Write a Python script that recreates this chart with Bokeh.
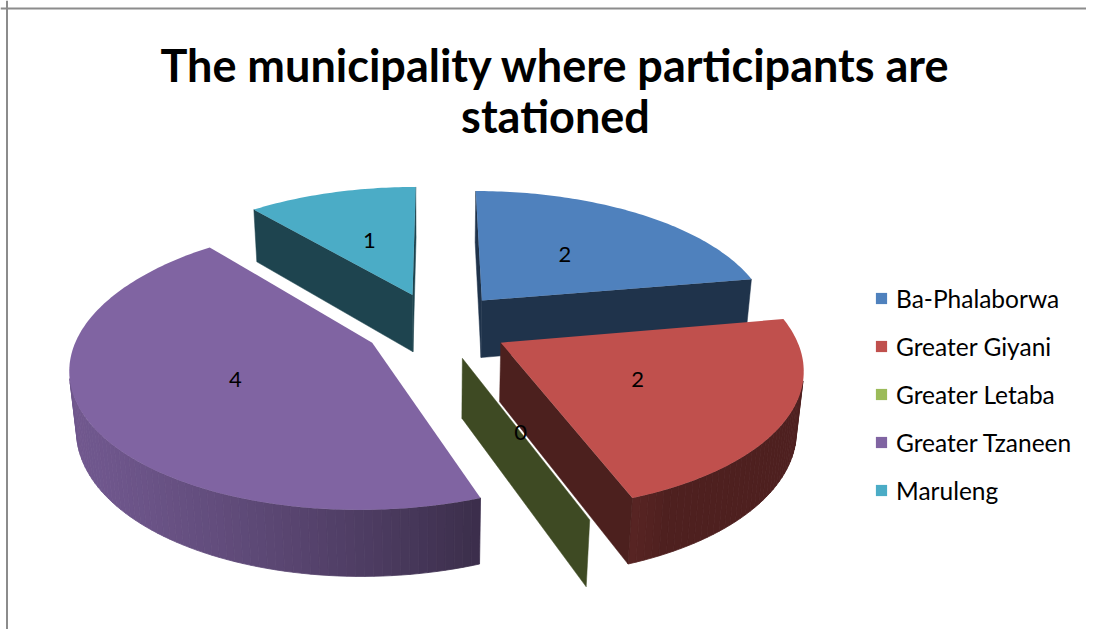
import numpy as np
from bokeh.plotting import figure
from bokeh.models import Range1d, Span, Legend, LegendItem
from bokeh.core.properties import value
from bokeh.embed import file_html
from bokeh.resources import INLINE

# ---------------- data ----------------
title_lines = ["The municipality where participants are", "stationed"]
categories = ["Ba-Phalaborwa", "Greater Giyani", "Greater Letaba", "Greater Tzaneen", "Maruleng"]
counts = [2, 2, 0, 4, 1]
colors = ["#4F81BD", "#C0504D", "#9BBB59", "#8064A2", "#4BACC6"]

# ---------------- 3D projection parameters (style) ----------------
CX, CY = 436.0, 325.0      # screen position of pie centre
F = 291.0                  # focal scale
PHI = np.radians(27.5)     # elevation
DN = 5.54                  # camera distance (in radii)
EXPLODE = 0.25             # explosion distance (radii)
H = 0.23                   # pie thickness (radii)
START = 90.0               # first slice starts at 12 o'clock, clockwise
LABEL_R = 0.5

s, c = np.sin(PHI), np.cos(PHI)
cam = np.array([0.0, DN * s, -DN * c])  # (X, Y, Z)


def project(X, Y, Z):
    X = np.asarray(X, float); Y = np.asarray(Y, float); Z = np.asarray(Z, float)
    w = 1 + (Z * c - Y * s) / DN
    return CX + F * X / w, CY - F * (Z * s + Y * c) / w


def shade(hexcol, f):
    h = hexcol.lstrip('#')
    r, g, b = (int(h[i:i + 2], 16) for i in (0, 2, 4))
    return "#%02x%02x%02x" % (int(r * f), int(g * f), int(b * f))


def side_factor(deg):
    return max(0.41, 0.424 + 0.4526 * np.cos(np.radians(deg - 205.0)))


def visible(normal, point):
    return float(np.dot(normal, cam - point)) > 0


p = figure(width=1086, height=629, x_range=Range1d(0, 1086), y_range=Range1d(629, 0),
           x_axis_type=None, y_axis_type=None, toolbar_location=None,
           output_backend="svg", min_border=0, outline_line_color=None,
           background_fill_color="white", border_fill_color="white")
p.grid.visible = False

total = float(sum(counts))
cum = np.concatenate([[0], np.cumsum(counts)])
slices = []
for i in range(len(counts)):
    a_start = START - 360.0 * cum[i] / total
    a_end = START - 360.0 * cum[i + 1] / total
    t1, t2 = a_end, a_start
    mid = 0.5 * (t1 + t2)
    ox = EXPLODE * np.cos(np.radians(mid))
    oz = EXPLODE * np.sin(np.radians(mid))
    slices.append(dict(i=i, t1=t1, t2=t2, mid=mid, ox=ox, oz=oz))

top_renderers = {}
for sl in sorted(slices, key=lambda d: -d["oz"]):
    i, t1, t2, ox, oz = sl["i"], sl["t1"], sl["t2"], sl["ox"], sl["oz"]
    col = colors[i]
    # curved outer side
    if t2 - t1 > 1e-9:
        nseg = max(2, int(np.ceil((t2 - t1) / 1.5)))
        th = np.linspace(t1, t2, nseg + 1)
        xs, ys, cs = [], [], []
        for a, b in zip(th[:-1], th[1:]):
            m = np.radians(0.5 * (a + b))
            normal = np.array([np.cos(m), 0.0, np.sin(m)])
            pt = np.array([ox + np.cos(m), -H / 2, oz + np.sin(m)])
            if not visible(normal, pt):
                continue
            ra, rb = np.radians(a), np.radians(b)
            X = [ox + np.cos(ra), ox + np.cos(rb), ox + np.cos(rb), ox + np.cos(ra)]
            Z = [oz + np.sin(ra), oz + np.sin(rb), oz + np.sin(rb), oz + np.sin(ra)]
            Y = [0, 0, -H, -H]
            sx, sy = project(X, Y, Z)
            xs.append(list(sx)); ys.append(list(sy))
            cs.append(shade(col, side_factor(0.5 * (a + b))))
        if xs:
            p.patches(xs=xs, ys=ys, fill_color=cs, line_color=cs, line_width=0.8)
    # radial faces
    for t, sign in ((t1, 1), (t2, -1)):
        r = np.radians(t)
        normal = np.array([sign * np.sin(r), 0.0, -sign * np.cos(r)])
        pt = np.array([ox + 0.5 * np.cos(r), -H / 2, oz + 0.5 * np.sin(r)])
        if visible(normal, pt):
            X = [ox, ox + np.cos(r), ox + np.cos(r), ox]
            Z = [oz, oz + np.sin(r), oz + np.sin(r), oz]
            Y = [0, 0, -H, -H]
            sx, sy = project(X, Y, Z)
            p.patch(x=list(sx), y=list(sy), fill_color=shade(col, 0.4),
                    line_color=shade(col, 0.4), line_width=0.5)
    # top face
    th = np.radians(np.linspace(t1, t2, max(2, int(np.ceil((t2 - t1) / 1.0)) + 1)))
    X = np.concatenate([[ox], ox + np.cos(th)])
    Z = np.concatenate([[oz], oz + np.sin(th)])
    sx, sy = project(X, np.zeros_like(X), Z)
    top_renderers[i] = p.patch(x=list(sx), y=list(sy), fill_color=col, line_color=None)

# data labels
lab_x, lab_y, lab_t = [], [], []
for sl in slices:
    m = np.radians(sl["mid"])
    sx, sy = project(sl["ox"] + LABEL_R * np.cos(m), 0.0, sl["oz"] + LABEL_R * np.sin(m))
    lab_x.append(float(sx)); lab_y.append(float(sy)); lab_t.append(str(counts[sl["i"]]))
p.text(x=lab_x, y=lab_y, text=lab_t, text_align="center", text_baseline="middle",
       text_font=value("Lato"), text_font_size="22px", text_color="black")

# title
p.text(x=[555, 555], y=[64, 115], text=title_lines, text_align="center",
       text_baseline="alphabetic", text_font=value("Lato"), text_font_style="bold",
       text_font_size="45px", text_color="black")

# legend
items = [LegendItem(label=categories[i], renderers=[top_renderers[i]]) for i in range(len(categories))]
legend = Legend(items=items, location=(874, 124), orientation="vertical",
                border_line_color=None, background_fill_alpha=0, padding=0, margin=0,
                spacing=18, glyph_width=14, glyph_height=14, label_standoff=8,
                label_text_font="Lato", label_text_font_size="24.5px", label_height=30,
                label_text_color="black")
p.add_layout(legend)

# chart border (left and top edges visible in the crop)
p.add_layout(Span(location=6.5, dimension="height", line_color="#8c8c8c", line_width=2))
p.add_layout(Span(location=8, dimension="width", line_color="#8c8c8c", line_width=2))

open("out.html", "w").write(file_html(p, INLINE))
